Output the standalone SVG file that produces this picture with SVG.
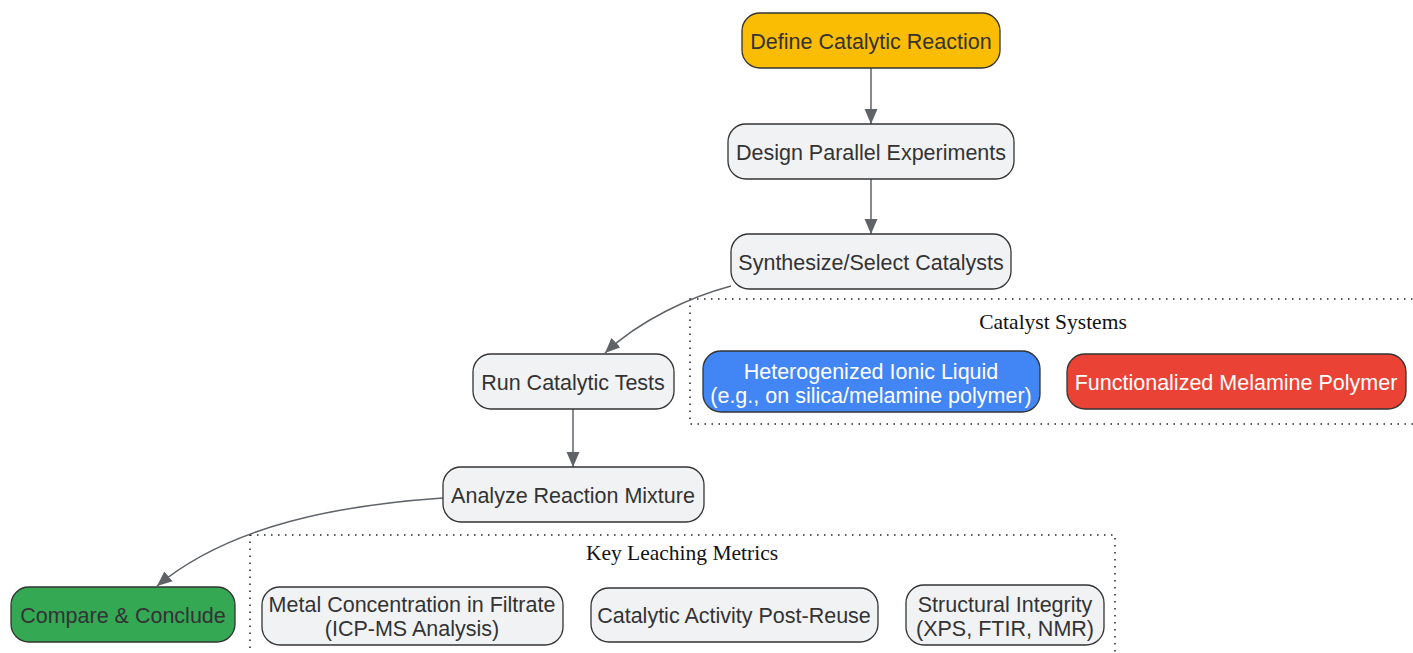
<svg xmlns="http://www.w3.org/2000/svg" width="1413" height="653" viewBox="0 0 1413 653">
<style>
.n{stroke:#333;stroke-width:1.3}
.g{fill:#f1f2f4}
.t{font-family:"Liberation Sans",Arial,sans-serif;font-size:21.5px;fill:#333;text-anchor:middle}
.w{fill:#fff}
.c{fill:none;stroke:#222;stroke-width:1.5;stroke-dasharray:1.5 5.5}
.ct{font-family:"Liberation Serif","Times New Roman",serif;font-size:21.5px;fill:#111;text-anchor:middle}
.e{fill:none;stroke:#5f6368;stroke-width:1.5}
</style>
<defs>
<marker id="ah" markerUnits="userSpaceOnUse" markerWidth="16" markerHeight="14" refX="15" refY="7" orient="auto">
<path d="M0,0.5 L15,7 L0,13.5 z" fill="#5f6368"/>
</marker>
</defs>
<rect width="1413" height="653" fill="#fff"/>
<g id="cluster-catalyst">
<rect class="c" x="690" y="299" width="740" height="125"/>
<text class="ct" x="1053" y="329">Catalyst Systems</text>
</g>
<g id="cluster-metrics">
<rect class="c" x="250" y="535" width="865" height="140"/>
<text class="ct" x="682" y="560">Key Leaching Metrics</text>
</g>
<g id="connectors">
<path class="e" d="M871,68 L871,124" marker-end="url(#ah)"/>
<path class="e" d="M871,179 L871,234" marker-end="url(#ah)"/>
<path class="e" d="M731,286 C690,297 640,320 605,353" marker-end="url(#ah)"/>
<path class="e" d="M573,409 L573,467" marker-end="url(#ah)"/>
<path class="e" d="M443,498 C340,505 230,525 157,586" marker-end="url(#ah)"/>
</g>
<g id="define">
<rect class="n" x="742" y="13" width="258" height="55" rx="18" fill="#fbbc04"/>
<text class="t" x="871" y="49">Define Catalytic Reaction</text>
</g>
<g id="design">
<rect class="n g" x="728" y="124" width="286" height="55" rx="18"/>
<text class="t" x="871" y="160">Design Parallel Experiments</text>
</g>
<g id="synth">
<rect class="n g" x="731" y="234" width="280" height="55" rx="18"/>
<text class="t" x="871" y="270">Synthesize/Select Catalysts</text>
</g>
<g id="run">
<rect class="n g" x="473" y="354" width="201" height="55" rx="18"/>
<text class="t" x="573" y="390">Run Catalytic Tests</text>
</g>
<g id="analyze">
<rect class="n g" x="443" y="467" width="261" height="55" rx="18"/>
<text class="t" x="573" y="503">Analyze Reaction Mixture</text>
</g>
<g id="compare">
<rect class="n" x="11" y="587" width="224" height="55" rx="18" fill="#34a853"/>
<text class="t" x="123" y="623">Compare &amp; Conclude</text>
</g>
<g id="hetero">
<rect class="n" x="703" y="351" width="337" height="61" rx="18" fill="#4285f4"/>
<text class="t w" x="871" y="379">Heterogenized Ionic Liquid</text>
<text class="t w" x="871" y="403">(e.g., on silica/melamine polymer)</text>
</g>
<g id="melamine">
<rect class="n" x="1067" y="354" width="339" height="55" rx="18" fill="#ea4335"/>
<text class="t w" x="1236" y="390">Functionalized Melamine Polymer</text>
</g>
<g id="metal">
<rect class="n g" x="262" y="587" width="301" height="58" rx="18"/>
<text class="t" x="412" y="612">Metal Concentration in Filtrate</text>
<text class="t" x="412" y="636">(ICP-MS Analysis)</text>
</g>
<g id="activity">
<rect class="n g" x="591" y="588" width="287" height="54" rx="18"/>
<text class="t" x="734" y="623">Catalytic Activity Post-Reuse</text>
</g>
<g id="structural">
<rect class="n g" x="906" y="585" width="198" height="60" rx="18"/>
<text class="t" x="1005" y="612">Structural Integrity</text>
<text class="t" x="1005" y="636">(XPS, FTIR, NMR)</text>
</g>
</svg>
